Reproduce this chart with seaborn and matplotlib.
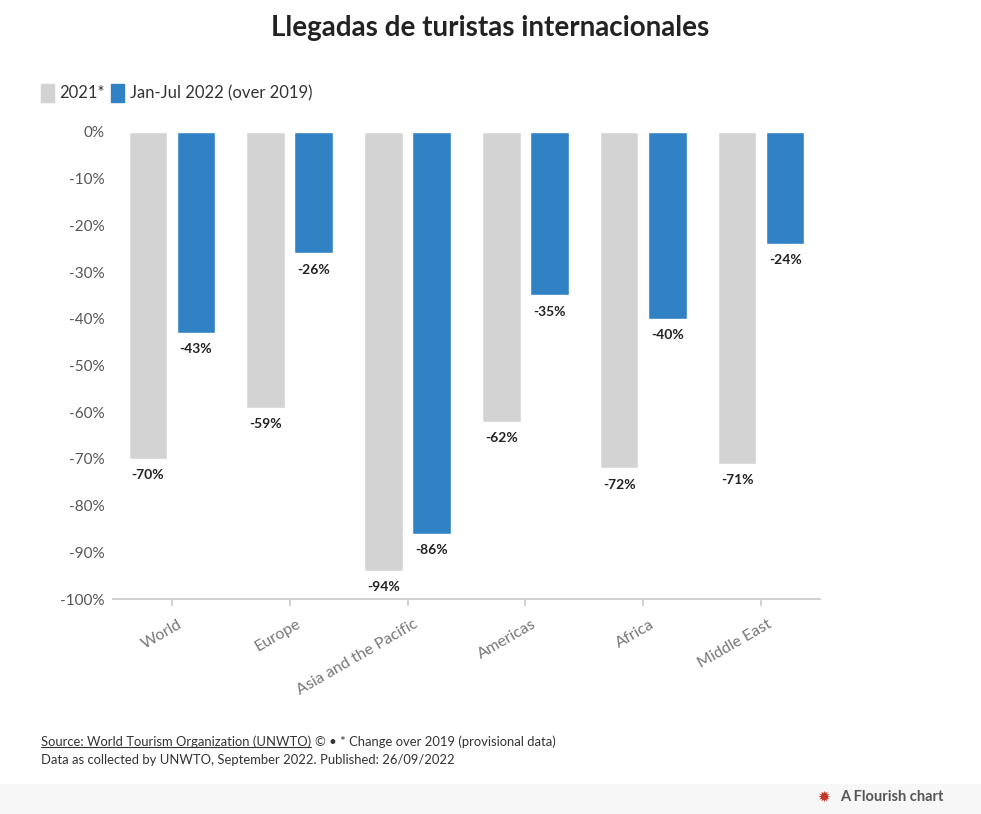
import matplotlib
matplotlib.use("Agg")
import matplotlib.pyplot as plt
import seaborn as sns
import pandas as pd
from matplotlib.patches import Rectangle

regions = ["World", "Europe", "Asia and the Pacific", "Americas", "Africa", "Middle East"]
s2021 = [-70, -59, -94, -62, -72, -71]
s2022 = [-43, -26, -86, -35, -40, -24]
series = ["2021*", "Jan-Jul 2022 (over 2019)"]
colors = ["#d3d3d3", "#3182c4"]

df = pd.DataFrame({
    "region": regions * 2,
    "value": s2021 + s2022,
    "series": [series[0]] * 6 + [series[1]] * 6,
})

sns.set_theme(style="white")
plt.rcParams['font.family'] = ['Lato', 'DejaVu Sans']
fig = plt.figure(figsize=(9.81, 8.14), dpi=100)
ax = fig.add_axes([0.115, 0.264, 0.721, 0.574])
sns.barplot(data=df, x="region", y="value", hue="series", palette=colors,
            width=0.815, gap=0.2, ax=ax, legend=False, saturation=1)
ax.set_ylim(-100, 0)
ax.set_xlim(-0.5, 5.5)
ax.set_yticks(range(0, -101, -10))
ax.set_yticklabels([f"{v}%" for v in range(0, -101, -10)], fontsize=11, color="#555555")
ax.set_xlabel(""); ax.set_ylabel("")
ax.tick_params(axis="x", length=5, color="#cccccc", bottom=True, pad=8)
ax.tick_params(axis="y", length=0, pad=6)
ax.set_xticks(range(6))
ax.set_xticklabels(regions, fontsize=11.5, color="#777777")
from matplotlib.transforms import ScaledTranslation
for lab in ax.get_xticklabels():
    lab.set_rotation(30)
    lab.set_ha("right")
    lab.set_rotation_mode("anchor")
    lab.set_transform(lab.get_transform() + ScaledTranslation(6/100, 0, fig.dpi_scale_trans))
for s in ["top", "right", "left"]:
    ax.spines[s].set_visible(False)
ax.spines["bottom"].set_color("#cccccc")

for container in ax.containers:
    for bar in container:
        h = bar.get_height()
        ax.text(bar.get_x() + bar.get_width() / 2, h - 2.2, f"{h:.0f}%",
                ha="center", va="top", fontsize=10, fontweight="bold", color="#222222")

fig.text(0.5, 0.965, "Llegadas de turistas internacionales", ha="center", va="center",
         fontsize=20, fontweight="bold", color="#222222")
fig.patches.append(Rectangle((41/981, 1-102/814), 13/981, 18/814, transform=fig.transFigure, color=colors[0]))
fig.text(59/981, 1-93/814, series[0], fontsize=12, va="center", color="#333333")
fig.patches.append(Rectangle((111/981, 1-102/814), 13/981, 18/814, transform=fig.transFigure, color=colors[1]))
fig.text(130/981, 1-93/814, series[1], fontsize=12, va="center", color="#333333")

t = fig.text(41/981, 1-742/814, "Source: World Tourism Organization (UNWTO)", fontsize=9.4,
             va="center", color="#333333")
fig.canvas.draw()
bb = t.get_window_extent().transformed(fig.transFigure.inverted())
fig.text(bb.x1 + 4/981, 1-742/814, "© • * Change over 2019 (provisional data)",
         fontsize=9.4, va="center", color="#333333", family=["Lato", "DejaVu Sans"])
fig.lines.append(plt.Line2D([bb.x0, bb.x1], [bb.y0 + 1/814, bb.y0 + 1/814], transform=fig.transFigure,
                            color="#333333", linewidth=0.8))
fig.text(41/981, 1-760/814, "Data as collected by UNWTO, September 2022. Published: 26/09/2022",
         fontsize=9.4, va="center", color="#333333")
fig.patches.append(Rectangle((0, 0), 1, 30/814, transform=fig.transFigure, color="#f7f7f7", zorder=-1))
fig.text(824/981, 1-797/814, "✹", fontsize=11, ha="center", va="center",
         color="#c0392b", family=["DejaVu Sans"])
fig.text(943/981, 1-797/814, "A Flourish chart", fontsize=10.5, ha="right", va="center",
         color="#555555", fontweight="bold")
fig.savefig("out.png", dpi=100)
